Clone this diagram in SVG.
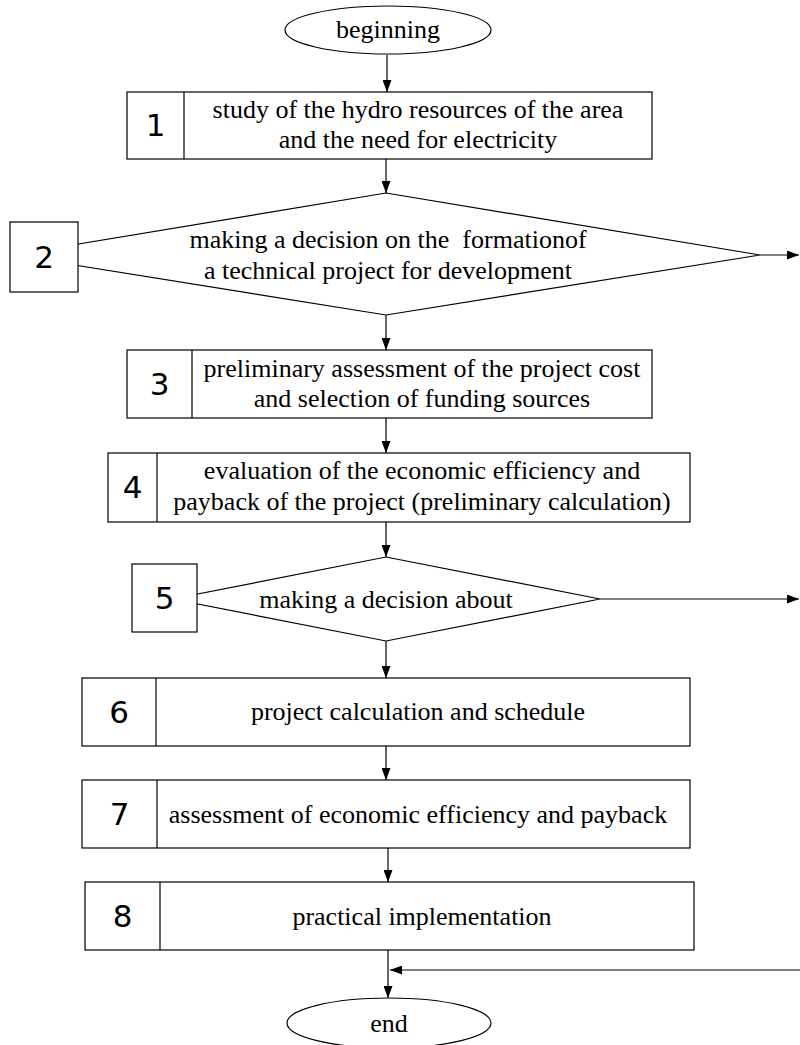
<svg xmlns="http://www.w3.org/2000/svg" width="800" height="1045" viewBox="0 0 800 1045">
<defs>
<style>
.sh{fill:#fff;stroke:#000;stroke-width:1.2}
.ln{fill:none;stroke:#000;stroke-width:1.2}
.t{font-size:26px;fill:#000;text-anchor:middle}
.n{font-size:31px;fill:#000;text-anchor:middle}
</style>
<marker id="ah" markerUnits="userSpaceOnUse" markerWidth="12" markerHeight="9" refX="12" refY="4.5" orient="auto">
<path d="M0,0 L12,4.5 L0,9 z" fill="#000"/>
</marker>
</defs>
<rect width="800" height="1045" fill="#fff"/>
<g id="connectors">
<line class="ln" x1="387" y1="55" x2="387" y2="92" marker-end="url(#ah)"/>
<line class="ln" x1="386" y1="159" x2="386" y2="193" marker-end="url(#ah)"/>
<line class="ln" x1="760" y1="255" x2="799" y2="255" marker-end="url(#ah)"/>
<line class="ln" x1="386" y1="315" x2="386" y2="350" marker-end="url(#ah)"/>
<line class="ln" x1="386" y1="418" x2="386" y2="453" marker-end="url(#ah)"/>
<line class="ln" x1="386" y1="522" x2="386" y2="557" marker-end="url(#ah)"/>
<line class="ln" x1="600" y1="599" x2="799" y2="599" marker-end="url(#ah)"/>
<line class="ln" x1="386" y1="641" x2="386" y2="678" marker-end="url(#ah)"/>
<line class="ln" x1="386" y1="746" x2="386" y2="780" marker-end="url(#ah)"/>
<line class="ln" x1="388" y1="848" x2="388" y2="882" marker-end="url(#ah)"/>
<line class="ln" x1="388" y1="950" x2="388" y2="998" marker-end="url(#ah)"/>
<line class="ln" x1="800" y1="970" x2="390" y2="970" marker-end="url(#ah)"/>
</g>
<g font-family="'Liberation Serif', 'Times New Roman', Times, serif">
<g id="start">
<ellipse class="sh" cx="388" cy="30" rx="103" ry="24"/>
<text class="t" x="388" y="38">beginning</text>
</g>
<g id="n1">
<rect class="sh" x="127" y="92" width="525" height="67"/>
<line class="ln" x1="184" y1="92" x2="184" y2="159"/>
<text class="n" font-family="'DejaVu Sans', sans-serif" x="155.5" y="136">1</text>
<text class="t" x="418" y="118">study of the hydro resources of the area</text>
<text class="t" x="418" y="148">and the need for electricity</text>
</g>
<g id="n2">
<polygon class="sh" points="386,193 760,255 386,315 12,255"/>
<rect class="sh" x="10" y="222" width="68" height="70"/>
<text class="n" font-family="'DejaVu Sans', sans-serif" x="44" y="268">2</text>
<text class="t" x="388" y="248" xml:space="preserve">making a decision on the  formationof</text>
<text class="t" x="388" y="279">a technical project for development</text>
</g>
<g id="n3">
<rect class="sh" x="127" y="350" width="525" height="68"/>
<line class="ln" x1="192" y1="350" x2="192" y2="418"/>
<text class="n" font-family="'DejaVu Sans', sans-serif" x="159.5" y="395">3</text>
<text class="t" x="422" y="377">preliminary assessment of the project cost</text>
<text class="t" x="422" y="407">and selection of funding sources</text>
</g>
<g id="n4">
<rect class="sh" x="108" y="453" width="582" height="69"/>
<line class="ln" x1="157" y1="453" x2="157" y2="522"/>
<text class="n" font-family="'DejaVu Sans', sans-serif" x="132.5" y="498">4</text>
<text class="t" x="422" y="479">evaluation of the economic efficiency and</text>
<text class="t" x="422" y="510">payback of the project (preliminary calculation)</text>
</g>
<g id="n5">
<polygon class="sh" points="386,557 600,599 386,641 172,599"/>
<rect class="sh" x="132" y="564" width="65" height="68"/>
<text class="n" font-family="'DejaVu Sans', sans-serif" x="164.5" y="609">5</text>
<text class="t" x="386" y="608">making a decision about</text>
</g>
<g id="n6">
<rect class="sh" x="82" y="678" width="608" height="68"/>
<line class="ln" x1="156" y1="678" x2="156" y2="746"/>
<text class="n" font-family="'DejaVu Sans', sans-serif" x="119" y="723">6</text>
<text class="t" x="418" y="720">project calculation and schedule</text>
</g>
<g id="n7">
<rect class="sh" x="82" y="780" width="608" height="68"/>
<line class="ln" x1="157" y1="780" x2="157" y2="848"/>
<text class="n" font-family="'DejaVu Sans', sans-serif" x="119.5" y="825">7</text>
<text class="t" x="418" y="823">assessment of economic efficiency and payback</text>
</g>
<g id="n8">
<rect class="sh" x="85" y="882" width="609" height="68"/>
<line class="ln" x1="160" y1="882" x2="160" y2="950"/>
<text class="n" font-family="'DejaVu Sans', sans-serif" x="122.5" y="927">8</text>
<text class="t" x="422" y="925">practical implementation</text>
</g>
<g id="end">
<ellipse class="sh" cx="389" cy="1023" rx="102" ry="25"/>
<text class="t" x="389" y="1032">end</text>
</g>
</g>
</svg>
